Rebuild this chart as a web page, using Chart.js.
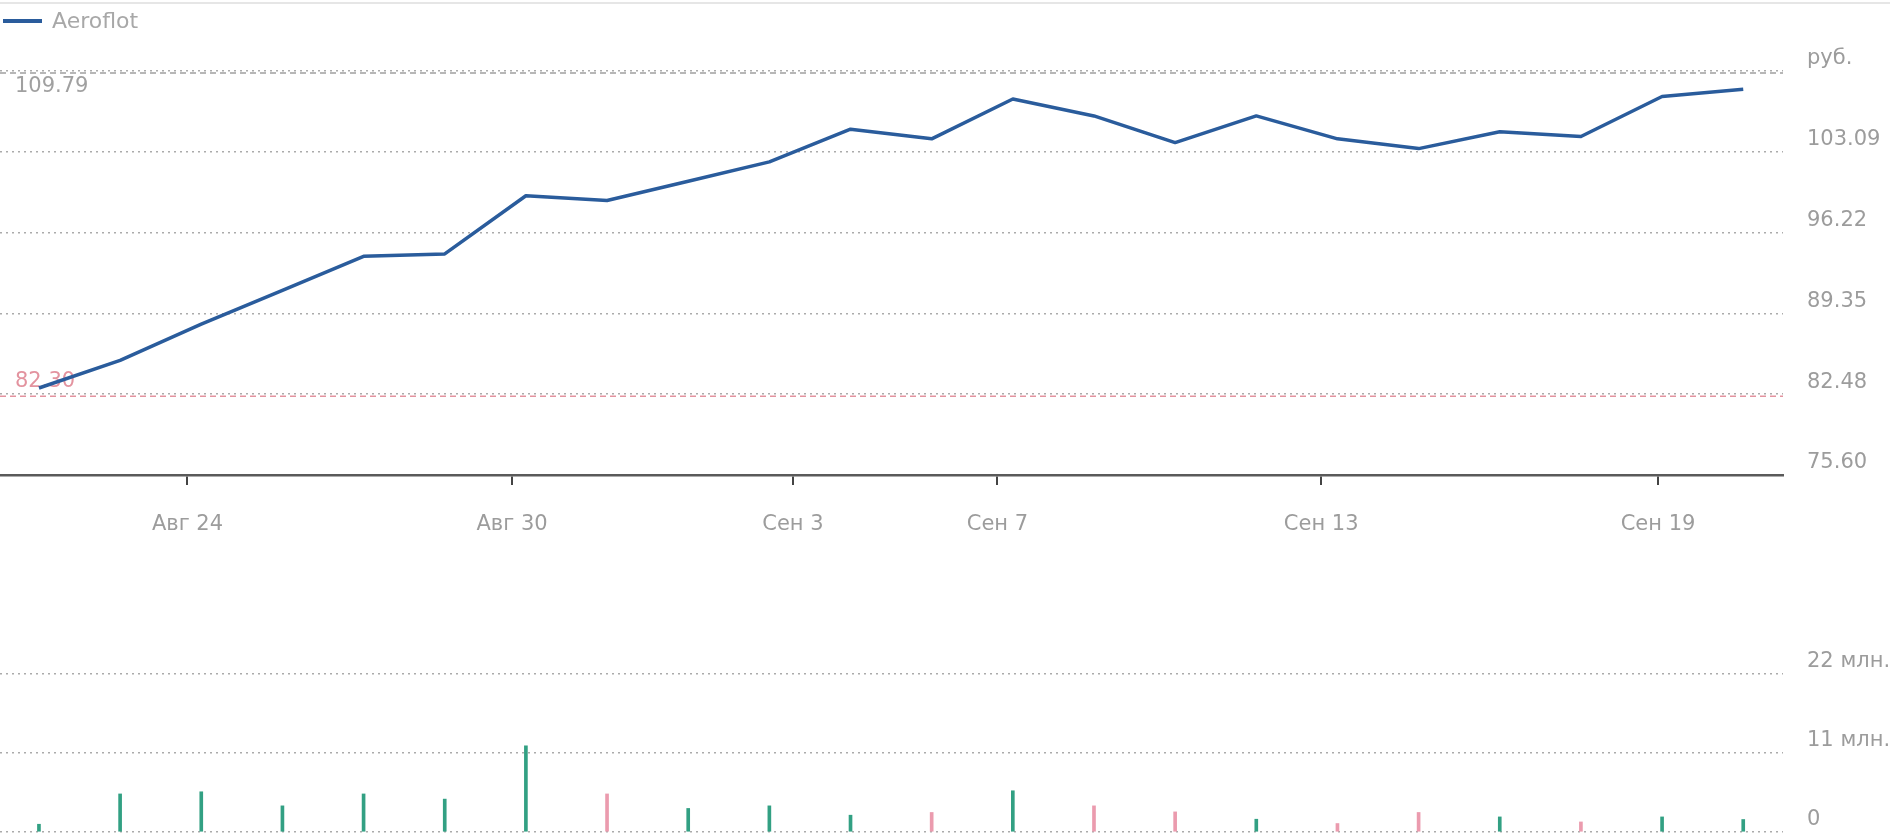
<!DOCTYPE html>
<html>
<head>
<meta charset="utf-8">
<script src="https://cdn.jsdelivr.net/npm/chart.js@4.4.0/dist/chart.umd.min.js"></script>
<style>
  html, body { margin: 0; padding: 0; background: #fff; }
  body { width: 1897px; height: 834px; overflow: hidden; position: relative; }
  #topRule { position: absolute; left: 0; top: 2px; width: 1890px; height: 2px; background: #e6e6e6; }
  #priceChart { position: absolute; left: 0; top: 0; }
  #volChart { position: absolute; left: 0; top: 580px; }
</style>
</head>
<body>
<div id="topRule"></div>
<canvas id="priceChart" width="1897" height="560"></canvas>
<canvas id="volChart" width="1897" height="254"></canvas>
<script>
  // trading days, Aug 22 .. Sep 20
  const days = ["22.08", "23.08", "24.08", "25.08", "26.08", "29.08", "30.08", "31.08", "01.09", "02.09",
                "05.09", "06.09", "07.09", "08.09", "09.09", "12.09", "13.09", "14.09", "15.09", "16.09",
                "19.09", "20.09"];
  const prices = [83.00, 85.35, 88.43, 91.31, 94.20, 94.40, 99.35, 98.94, 100.58, 102.23,
                  105.01, 104.19, 107.58, 106.14, 103.87, 106.14, 104.19, 103.36, 104.80, 104.39,
                  107.79, 108.41];
  // volume, millions
  const volumes = [1.08, 5.3, 5.6, 3.64, 5.3, 4.58, 12.0, 5.3, 3.28, 3.64,
                   2.34, 2.72, 5.74, 3.64, 2.8, 1.78, 1.18, 2.72, 2.1, 1.4,
                   2.1, 1.74];
  const maxPrice = 109.79;
  const minPrice = 82.30;

  const xTickPos = [1.83, 5.83, 9.29, 11.81, 15.80, 19.95];
  const xTickLabels = ["Авг 24", "Авг 30", "Сен 3", "Сен 7", "Сен 13", "Сен 19"];
  const priceTicks = [75.60, 82.48, 89.35, 96.22, 103.09, 109.96];
  const priceUnit = "руб.";
  const volTicks = [0, 11, 22];

  const FONT = '"DejaVu Sans"';
  const labelGrey = "#9c9c9c";
  const lineBlue = "#2a5c9c";
  const upGreen = "#32a083";
  const downPink = "#eb9bae";

  const xMin = -0.48, xMax = 21.49;

  const priceMarks = {
    id: "priceMarks",
    beforeDatasetsDraw(chart) {
      const { ctx, chartArea: a, scales: { y } } = chart;
      const level = (v, color, dy) => {
        const py = y.getPixelForValue(v);
        ctx.save();
        ctx.strokeStyle = color;
        ctx.lineWidth = 1.5;
        ctx.setLineDash([6, 4]);
        ctx.beginPath();
        ctx.moveTo(a.left, py);
        ctx.lineTo(a.right, py);
        ctx.stroke();
        ctx.setLineDash([]);
        ctx.fillStyle = color;
        ctx.font = "21px " + FONT;
        ctx.textBaseline = "middle";
        ctx.fillText(v.toFixed(2), 15, py + dy);
        ctx.restore();
      };
      level(maxPrice, "#a0a0a0", 14);
      level(minPrice, "#e3939f", -15);
    },
    afterDraw(chart) {
      // legend, top left
      const { ctx } = chart;
      const ds = chart.data.datasets[0];
      ctx.save();
      ctx.strokeStyle = ds.borderColor;
      ctx.lineWidth = 4;
      ctx.beginPath();
      ctx.moveTo(3, 21);
      ctx.lineTo(42, 21);
      ctx.stroke();
      ctx.fillStyle = "#a8a8a8";
      ctx.font = "22px " + FONT;
      ctx.textBaseline = "middle";
      ctx.fillText(ds.label, 52, 22);
      ctx.restore();
    }
  };

  const priceChart = new Chart(document.getElementById("priceChart"), {
    type: "line",
    data: {
      datasets: [{
        label: "Aeroflot",
        data: prices.map((v, i) => ({ x: i, y: v })),
        borderColor: lineBlue,
        borderWidth: 3.5,
        pointRadius: 0,
        tension: 0,
        fill: false,
        borderJoinStyle: "round"
      }]
    },
    options: {
      responsive: false,
      animation: false,
      layout: { padding: { top: 71, left: 0, right: 0, bottom: 0 } },
      plugins: { legend: { display: false }, tooltip: { enabled: false } },
      scales: {
        x: {
          type: "linear",
          min: xMin,
          max: xMax,
          offset: false,
          afterBuildTicks: s => { s.ticks = xTickPos.map(v => ({ value: v })); },
          afterFit: s => { s.height = 85; },
          grid: { drawOnChartArea: false, drawTicks: true, tickLength: 10, color: "#444", lineWidth: 2 },
          border: { display: true, color: "#5a5a5a", width: 2.5 },
          ticks: {
            autoSkip: false,
            maxRotation: 0,
            padding: 27,
            color: labelGrey,
            font: { family: FONT, size: 21 },
            callback: (v, i) => xTickLabels[i]
          }
        },
        y: {
          position: "right",
          min: priceTicks[0],
          max: priceTicks[priceTicks.length - 1],
          afterBuildTicks: s => { s.ticks = priceTicks.map(v => ({ value: v })); },
          afterFit: s => { s.width = 114; },
          grid: { color: "#ababab", lineWidth: 1.5, drawTicks: true, tickLength: 24, tickColor: "rgba(0,0,0,0)" },
          border: { display: false, dash: [2, 4] },
          ticks: {
            align: "end",
            padding: 0,
            labelOffset: -1.5,
            color: labelGrey,
            font: { family: FONT, size: 21 },
            callback: (v, i) => i === priceTicks.length - 1 ? priceUnit : Number(v).toFixed(2)
          }
        }
      }
    },
    plugins: [priceMarks]
  });

  const volChart = new Chart(document.getElementById("volChart"), {
    type: "bar",
    data: {
      datasets: [{
        label: "Volume",
        data: volumes.map((v, i) => ({ x: i, y: v })),
        backgroundColor: volumes.map((v, i) => (i === 0 || prices[i] >= prices[i - 1]) ? upGreen : downPink),
        barThickness: 3,
        borderWidth: 0
      }]
    },
    options: {
      responsive: false,
      animation: false,
      layout: { padding: { top: 94, left: 0, right: 0, bottom: 2 } },
      plugins: { legend: { display: false }, tooltip: { enabled: false } },
      scales: {
        x: { type: "linear", min: xMin, max: xMax, offset: false, grid: { offset: false }, display: false },
        y: {
          position: "right",
          min: 0,
          max: 22,
          afterBuildTicks: s => { s.ticks = volTicks.map(v => ({ value: v })); },
          afterFit: s => { s.width = 114; },
          grid: { color: "#ababab", lineWidth: 1.5, drawTicks: true, tickLength: 24, tickColor: "rgba(0,0,0,0)" },
          border: { display: false, dash: [2, 4] },
          ticks: {
            align: "end",
            padding: 0,
            labelOffset: -1.5,
            color: labelGrey,
            font: { family: FONT, size: 21 },
            callback: v => v === 0 ? "0" : v + " млн."
          }
        }
      }
    }
  });
</script>
</body>
</html>
